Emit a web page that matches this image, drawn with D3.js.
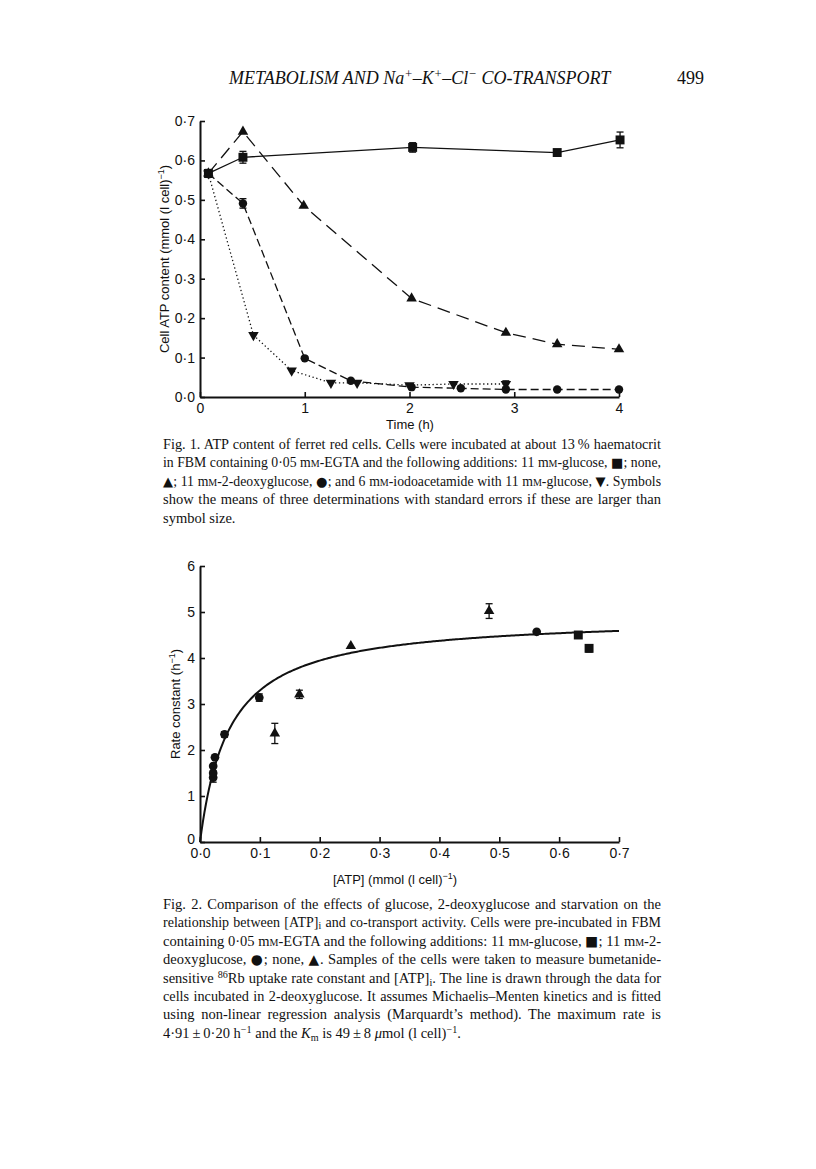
<!DOCTYPE html>
<html>
<head>
<meta charset="utf-8">
<script src="https://cdn.jsdelivr.net/npm/d3@7"></script>
<style>
  body { margin: 0; background: #fff; }
  #page { position: relative; width: 816px; height: 1169px; overflow: hidden; background: #fff; }
  svg { position: absolute; left: 0; top: 0; }
  .line { position: absolute; left: 163px; width: 498px; height: 19px; line-height: 19px;
          font-family: "Liberation Serif", "DejaVu Serif", serif; font-size: 14.5px; color: #111;
          text-align: justify; text-align-last: justify; white-space: normal; }
  .line.last { text-align-last: left; }
  .sc { font-variant: small-caps; }
  .sup { font-size: 0.7em; vertical-align: 0.45em; line-height: 0; }
  .sub { font-size: 0.7em; vertical-align: -0.25em; line-height: 0; }
  .sym { font-family: "DejaVu Sans", sans-serif; font-size: 0.95em; }
  .hdr { position: absolute; font-family: "Liberation Serif", "DejaVu Serif", serif; font-size: 18px; color: #111; }
  .tick text { font-family: "Liberation Sans", Arial, sans-serif; font-size: 14px; fill: #111; }
  .ttl { font-family: "Liberation Sans", Arial, sans-serif; font-size: 13px; fill: #111; }
</style>
</head>
<body>
<div id="page"></div>
<script>
// Fig. 1 - ATP content vs time (h)
var glucoseT = [0.08, 0.41, 2.03, 3.41, 4.01];
var glucoseV = [0.567, 0.608, 0.633, 0.620, 0.652];
var glucoseE = [0.010, 0.015, 0.012, 0, 0.020];

var noneT = [0.08, 0.41, 0.99, 2.02, 2.92, 3.41, 4.0];
var noneV = [0.567, 0.673, 0.485, 0.250, 0.163, 0.134, 0.121];

var deoxyT = [0.08, 0.41, 1.0, 1.44, 2.02, 2.49, 2.92, 3.41, 4.0];
var deoxyV = [0.567, 0.491, 0.098, 0.041, 0.025, 0.022, 0.019, 0.019, 0.019];
var deoxyE = [0, 0.012, 0, 0, 0, 0, 0, 0, 0];

var iodoT = [0.08, 0.51, 0.875, 1.25, 1.50, 2.0, 2.42, 2.92];
var iodoV = [0.567, 0.157, 0.067, 0.036, 0.036, 0.030, 0.033, 0.033];
var iodoE = [0, 0, 0, 0, 0, 0, 0, 0.008];

var fig1XTicks = [0, 1, 2, 3, 4];
var fig1YTicks = [0, 0.1, 0.2, 0.3, 0.4, 0.5, 0.6, 0.7];

// Fig. 2 - rate constant vs [ATP]
var glucose2X = [0.632, 0.650];
var glucose2Y = [4.50, 4.21];
var glucose2E = [0, 0.08];

var deoxy2X = [0.022, 0.022, 0.022, 0.025, 0.041, 0.099, 0.5625];
var deoxy2Y = [1.40, 1.50, 1.65, 1.84, 2.34, 3.14, 4.57];
var deoxy2E = [0.10, 0.05, 0, 0, 0.06, 0.08, 0];

var none2X = [0.125, 0.166, 0.252, 0.483];
var none2Y = [2.36, 3.21, 4.26, 5.02];
var none2E = [0.22, 0.09, 0, 0.16];

var fig2XTicks = [0, 0.1, 0.2, 0.3, 0.4, 0.5, 0.6, 0.7];
var fig2YTicks = [0, 1, 2, 3, 4, 5, 6];

// Michaelis-Menten fit from the caption
var vmax = 4.91, km = 0.049;

var page = d3.select("#page");
var svg = page.append("svg").attr("width", 816).attr("height", 1169);

var oneDec = function(v) { return d3.format(".1f")(v).replace(".", "\u00b7"); };

function zip(xs, ys, es) {
    return xs.map(function(x, i) { return { x: x, y: ys[i], e: es ? es[i] : 0 }; });
}

function drawAxes(g, x, y, xTicks, yTicks, xFmt, yFmt) {
    var ax = g.append("g")
        .attr("transform", "translate(0," + y.range()[0] + ")")
        .call(d3.axisBottom(x).tickValues(xTicks).tickFormat(xFmt)
            .tickSizeInner(-5).tickSizeOuter(0).tickPadding(6));
    var ay = g.append("g")
        .attr("transform", "translate(" + x.range()[0] + ",0)")
        .call(d3.axisLeft(y).tickValues(yTicks).tickFormat(yFmt)
            .tickSizeInner(-5).tickSizeOuter(0).tickPadding(5));
    [ax, ay].forEach(function(a) {
        a.select(".domain").attr("stroke", "#111").attr("stroke-width", 2);
        a.selectAll(".tick line").attr("stroke", "#111").attr("stroke-width", 1.6);
    });
    return { ax: ax, ay: ay };
}

function errBars(g, pts, x, y) {
    var eb = g.append("g").attr("stroke", "#111").attr("stroke-width", 1.3);
    pts.filter(function(d) { return d.e > 0; }).forEach(function(d) {
        var cx = x(d.x), ya = y(d.y + d.e), yb = y(d.y - d.e);
        eb.append("line").attr("x1", cx).attr("x2", cx).attr("y1", ya).attr("y2", yb);
        eb.append("line").attr("x1", cx - 3.5).attr("x2", cx + 3.5).attr("y1", ya).attr("y2", ya);
        eb.append("line").attr("x1", cx - 3.5).attr("x2", cx + 3.5).attr("y1", yb).attr("y2", yb);
    });
}

function markers(g, pts, x, y, type, size, rot) {
    g.append("g").selectAll("path").data(pts).join("path")
        .attr("d", d3.symbol(type, size))
        .attr("transform", function(d) {
            return "translate(" + x(d.x) + "," + y(d.y) + ")" + (rot ? " rotate(" + rot + ")" : "");
        })
        .attr("fill", "#111");
}

function supTitle(t, main, tail) {
    t.append("tspan").text(main);
    t.append("tspan").attr("dy", -5).attr("font-size", 9).text("\u22121");
    t.append("tspan").attr("dy", 5).text(tail);
}

// ---------- Fig. 1 ----------
var x1 = d3.scaleLinear().domain([0, 4]).range([200, 619]);
var y1 = d3.scaleLinear().domain([0, 0.7]).range([397, 121]);
var g1 = svg.append("g");
drawAxes(g1, x1, y1, fig1XTicks, fig1YTicks, function(d) { return d; }, oneDec);

var line1 = d3.line().x(function(d) { return x1(d.x); }).y(function(d) { return y1(d.y); });

var s1 = [
    { pts: zip(glucoseT, glucoseV, glucoseE), dash: null, sym: d3.symbolSquare, size: 80, rot: 0 },
    { pts: zip(noneT, noneV), dash: "13,7", sym: d3.symbolTriangle, size: 48, rot: 0 },
    { pts: zip(deoxyT, deoxyV, deoxyE), dash: "8,4", sym: d3.symbolCircle, size: 56, rot: 0 },
    { pts: zip(iodoT, iodoV, iodoE), dash: "1.3,2.6", sym: d3.symbolTriangle, size: 48, rot: 180 }
];
s1.forEach(function(s) {
    g1.append("path").datum(s.pts).attr("d", line1)
        .attr("fill", "none").attr("stroke", "#111").attr("stroke-width", 1.3)
        .attr("stroke-dasharray", s.dash);
});
s1.forEach(function(s) {
    errBars(g1, s.pts, x1, y1);
    markers(g1, s.pts, x1, y1, s.sym, s.size, s.rot);
});

g1.append("text").attr("class", "ttl").attr("x", 410).attr("y", 429)
    .attr("text-anchor", "middle").text("Time (h)");
supTitle(g1.append("text").attr("class", "ttl")
    .attr("transform", "translate(169,259) rotate(-90)").attr("text-anchor", "middle"),
    "Cell ATP content (mmol (l cell)", ")");

// ---------- Fig. 2 ----------
var x2 = d3.scaleLinear().domain([0, 0.7]).range([200, 619]);
var y2 = d3.scaleLinear().domain([0, 6]).range([842, 566]);
var g2 = svg.append("g");
var axes2 = drawAxes(g2, x2, y2, fig2XTicks, fig2YTicks, oneDec, function(d) { return d; });
// lift the "0" of the y axis clear of the "0·0" below it
axes2.ay.selectAll(".tick").filter(function(d) { return d === 0; }).select("text").attr("dy", "0.1em");

var fitX = d3.range(0, 0.7001, 0.0025);
var fit = fitX.map(function(c) { return { x: c, y: vmax * c / (km + c) }; });
g2.append("path").datum(fit)
    .attr("d", d3.line().x(function(d) { return x2(d.x); }).y(function(d) { return y2(d.y); }))
    .attr("fill", "none").attr("stroke", "#111").attr("stroke-width", 2);

var s2 = [
    { pts: zip(glucose2X, glucose2Y, glucose2E), sym: d3.symbolSquare, size: 80 },
    { pts: zip(deoxy2X, deoxy2Y, deoxy2E), sym: d3.symbolCircle, size: 60 },
    { pts: zip(none2X, none2Y, none2E), sym: d3.symbolTriangle, size: 48 }
];
s2.forEach(function(s) {
    errBars(g2, s.pts, x2, y2);
    markers(g2, s.pts, x2, y2, s.sym, s.size, 0);
});

supTitle(g2.append("text").attr("class", "ttl").attr("x", 395).attr("y", 884).attr("text-anchor", "middle"),
    "[ATP] (mmol (l cell)", ")");
supTitle(g2.append("text").attr("class", "ttl")
    .attr("transform", "translate(180,704) rotate(-90)").attr("text-anchor", "middle"),
    "Rate constant (h", ")");

// ---------- running head and captions ----------
page.append("div").attr("class", "hdr").style("left", "229px").style("top", "68px")
    .style("font-style", "italic")
    .html('METABOLISM AND Na<span class="sup">+</span>\u2013K<span class="sup">+</span>\u2013Cl<span class="sup">\u2212</span> CO-TRANSPORT');
page.append("div").attr("class", "hdr").style("left", "677px").style("top", "68px").text("499");

var mM = 'm<span class="sc">m</span>';
var cap1 = [
    'Fig. 1. ATP content of ferret red cells. Cells were incubated at about 13\u2009% haematocrit',
    'in FBM containing 0\u00b705 ' + mM + '-EGTA and the following additions: 11 ' + mM + '-glucose, <span class="sym">\u25a0</span>; none,',
    '<span class="sym">\u25b2</span>; 11 ' + mM + '-2-deoxyglucose, <span class="sym">\u25cf</span>; and 6 ' + mM + '-iodoacetamide with 11 ' + mM + '-glucose, <span class="sym">\u25bc</span>. Symbols',
    'show the means of three determinations with standard errors if these are larger than',
    'symbol size.'
];
var cap2 = [
    'Fig. 2. Comparison of the effects of glucose, 2-deoxyglucose and starvation on the',
    'relationship between [ATP]<span class="sub">i</span> and co-transport activity. Cells were pre-incubated in FBM',
    'containing 0\u00b705 ' + mM + '-EGTA and the following additions: 11 ' + mM + '-glucose, <span class="sym">\u25a0</span>; 11 ' + mM + '-2-',
    'deoxyglucose, <span class="sym">\u25cf</span>; none, <span class="sym">\u25b2</span>. Samples of the cells were taken to measure bumetanide-',
    'sensitive <span class="sup">86</span>Rb uptake rate constant and [ATP]<span class="sub">i</span>. The line is drawn through the data for',
    'cells incubated in 2-deoxyglucose. It assumes Michaelis\u2013Menten kinetics and is fitted',
    'using non-linear regression analysis (Marquardt\u2019s method). The maximum rate is',
    '4\u00b791\u2009\u00b1\u20090\u00b720 h<span class="sup">\u22121</span> and the <i>K</i><span class="sub">m</span> is 49\u2009\u00b1\u20098 <i>\u03bc</i>mol (l cell)<span class="sup">\u22121</span>.'
];

function caption(lines, top) {
    lines.forEach(function(h, i) {
        var d = page.append("div").attr("class", "line" + (i === lines.length - 1 ? " last" : ""))
            .style("top", (top + i * 18.4) + "px").html(h);
        // shrink a line a little if it would wrap
        var fs = 14.5;
        while (d.node().scrollHeight > 22 && fs > 11) {
            fs -= 0.25;
            d.style("font-size", fs + "px");
        }
    });
}
caption(cap1, 435);
caption(cap2, 895);
</script>
</body>
</html>
